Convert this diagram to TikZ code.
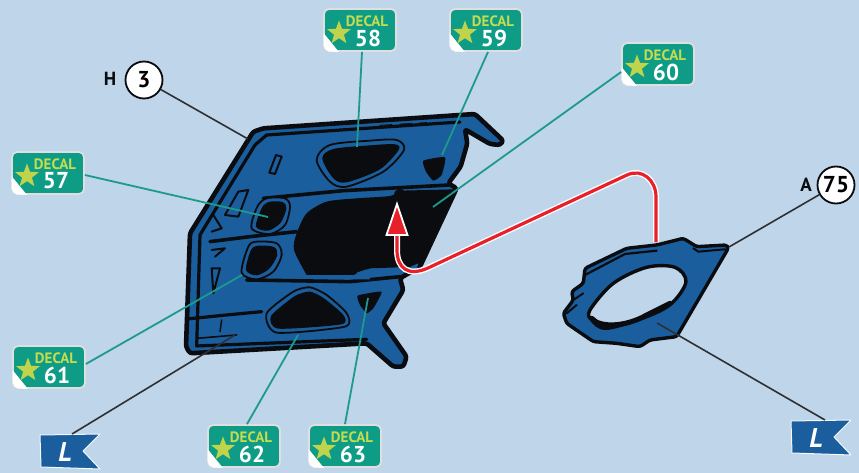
\documentclass[tikz,border=0pt]{standalone}
\usepackage{fontspec}
\setmainfont{PT Sans}
\usetikzlibrary{shapes.geometric,calc}
\definecolor{bgc}{HTML}{BED5EA}
\definecolor{panelc}{HTML}{1A5E9E}
\definecolor{inkc}{HTML}{0A0C10}
\definecolor{tealc}{HTML}{0E9C86}
\definecolor{tealln}{HTML}{1E9A8C}
\definecolor{yelc}{HTML}{C5DC50}
\definecolor{starc}{HTML}{BFD44A}
\definecolor{redc}{HTML}{E8202A}
\tikzset{
  badge/.style={draw=white!75!gray,line width=1.8pt,fill=tealc,rounded corners=5pt,minimum width=72pt,minimum height=42pt,inner sep=0pt},
  decalword/.style={text=yelc,font=\bfseries\fontsize{15}{15}\selectfont,inner sep=0pt},
  decalnum/.style={text=white,font=\bfseries\fontsize{23}{23}\selectfont,inner sep=0pt},
  startag/.style={star,star points=5,star point ratio=2.4,fill=starc,minimum size=25pt,inner sep=0pt},
  leader/.style={draw=tealln,line width=1.8pt},
  blackline/.style={draw=inkc!85!white,line width=1.6pt},
  callout/.style={circle,draw=inkc,line width=1.8pt,fill=white,minimum size=37pt,inner sep=0pt,font=\bfseries\fontsize{23}{23}\selectfont},
  prefixtag/.style={font=\bfseries\fontsize{19}{19}\selectfont,text=inkc,inner sep=0pt},
  bodyshape/.style={fill=panelc,draw=inkc,line join=round,rounded corners=2.5pt},
  holeshape/.style={fill=inkc,draw=none},
  ringb/.style={fill=panelc,draw=inkc,line width=1.8pt},
  streak/.style={draw=inkc,line cap=round,line join=round},
  flagshape/.style={fill=panelc,draw=white!85!bgc,line width=1pt,line join=round},
  flagl/.style={text=white,font=\bfseries\itshape\fontsize{27}{27}\selectfont,inner sep=0pt}
}
\newcommand{\decal}[4]{%
  \node[badge] (#1) at (#2,#3) {};
  \fill[white] ($(#1)+(-36.5,3)$) -- ($(#1)+(-21,22)$) -- ($(#1)+(-31,21.5)$) .. controls ($(#1)+(-34,21)$) and ($(#1)+(-36,18)$) .. ($(#1)+(-36.5,15)$) -- cycle;
  \node[startag] (#1s) at ($(#1)+(-21,3)$) {};
  \node[decalword] (#1w) at ($(#1)+(7,-9)$) {DECAL};
  \node[decalnum] (#1n) at ($(#1)+(8,8)$) {#4};
}
\newcommand{\flagat}[3]{%
  \path[flagshape] ($(#2,#3)+(-30,-17)$) -- ($(#2,#3)+(30,-18)$) -- ($(#2,#3)+(13,-1)$) -- ($(#2,#3)+(30,17)$) -- ($(#2,#3)+(-29,15)$) -- cycle;
  \node[flagl] (#1) at ($(#2,#3)+(-5,0)$) {L};
}
\begin{document}
\begin{tikzpicture}[x=1pt,y=-1pt]
\useasboundingbox (0,0) rectangle (859,473);
\fill[bgc] (0,0) rectangle (859,473);

% door panel, traced in zoom coordinates
\begin{scope}[shift={(170,100)},x=0.3333pt,y=-0.3333pt]
\path[bodyshape,line width=4.6pt] (250,95) -- (280,85) -- (915,42) -- (1000,122) -- (990,135) -- (960,132) -- (885,88) -- (892,130) -- (872,200) -- (835,250) -- (860,265) -- (750,500) -- (690,535) -- (700,570) -- (640,670) -- (710,770) -- (700,800) -- (670,800) -- (590,730) -- (60,760) -- (48,740) -- (60,400) -- cycle;
% inner top edge and left edge
\draw[streak,line width=3.2pt] (870,66) -- (290,105) -- (255,135) -- (105,380) -- (90,405) -- (80,738) -- (590,718);
% stiffeners
\draw[streak,line width=3.6pt] (120,425) -- (240,410) -- (380,395);
\draw[streak,line width=3.6pt] (280,295) -- (520,272) -- (840,255);
\draw[streak,line width=3.6pt] (230,540) -- (540,545) -- (690,530);
\draw[streak,line width=3.2pt] (50,657) -- (170,645) -- (275,635);
\draw[streak,line width=1.6pt] (82,715) -- (200,705);
% centre opening
\path[holeshape] plot[smooth,tension=0.45] coordinates {(690,272) (660,288) (560,295) (470,305) (410,340) (380,400) (372,450) (410,525)} -- (550,525) -- (600,505) -- (750,500) -- (858,268) -- cycle;
\fill[panelc] (560,518) -- (590,508) -- (600,538) -- (555,538) -- cycle;
\fill[panelc] (722,500) -- (745,490) -- (738,515) -- cycle;
% top window
\path[ringb] plot[smooth cycle,tension=0.5] coordinates {(440,180) (480,135) (600,122) (680,120) (702,150) (640,215) (530,260) (480,245)};
\path[holeshape] plot[smooth cycle,tension=0.5] coordinates {(457,175) (490,147) (600,136) (675,133) (686,150) (630,208) (530,247) (490,235)};
% small top right hole
\path[holeshape] plot[smooth cycle,tension=0.3] coordinates {(760,182) (825,172) (815,225) (790,242) (768,215)};
% left windows
\path[ringb] plot[smooth cycle,tension=0.5] coordinates {(262,320) (290,295) (345,295) (360,320) (345,375) (300,402) (245,385)};
\path[holeshape] plot[smooth cycle,tension=0.5] coordinates {(275,325) (295,306) (338,306) (349,325) (332,368) (295,392) (258,380)};
\path[ringb] plot[smooth cycle,tension=0.5] coordinates {(235,440) (260,425) (320,430) (335,465) (310,515) (260,538) (215,518)};
\path[holeshape] plot[smooth cycle,tension=0.5] coordinates {(243,450) (265,437) (312,441) (322,465) (298,506) (260,526) (228,510)};
% bottom window
\path[ringb] plot[smooth cycle,tension=0.4] coordinates {(290,640) (370,575) (420,562) (470,585) (530,640) (525,680) (320,698)};
\path[holeshape] plot[smooth cycle,tension=0.4] coordinates {(303,648) (375,588) (420,575) (462,595) (520,645) (514,673) (325,686)};
% lower right hole
\path[holeshape] plot[smooth cycle,tension=0.25] coordinates {(563,587) (635,575) (610,625) (590,640) (570,615)};
% small details
\draw[streak,line width=2pt,fill=panelc] (318,165) -- (335,170) -- (315,222) -- (298,218) -- cycle;
\draw[streak,line width=2pt] (235,270) -- (205,275) -- (165,345) -- (205,350) -- cycle;
\draw[streak,line width=2pt] (130,345) -- (155,385) -- (125,395);
\draw[streak,line width=2pt] (125,450) -- (165,445) -- (135,470);
\draw[streak,line width=2pt] (125,505) -- (150,505) -- (130,580) -- cycle;
\draw[streak,line width=1.5pt] (155,660) -- (150,695);
\draw[streak,line width=1pt,dash pattern=on 12pt off 8pt] (630,76) -- (770,68);
\fill[inkc] (690,285) circle[radius=18];
\end{scope}

% gasket, traced in zoom coordinates
\begin{scope}[shift={(550,160)},x=0.3333pt,y=-0.3333pt]
\path[bodyshape,line width=3.4pt] (40,460) -- (70,420) -- (65,395) -- (100,370) -- (105,325) -- (230,265) -- (320,255) -- (400,235) -- (440,260) -- (530,255) -- (535,265) -- (380,530) -- (300,540) -- (270,560) -- (200,550) -- (130,545) -- (50,490) -- cycle;
\draw[streak,line width=2.2pt] (105,345) -- (225,282) -- (320,272);
\draw[streak,line width=2pt] (430,265) -- (445,275) -- (525,268);
\draw[streak,line width=2pt] (70,420) -- (100,400);
\draw[streak,line width=2pt] (50,460) -- (80,435);
\path[fill=bgc,draw=inkc,line width=3.4pt] plot[smooth cycle,tension=0.55] coordinates {(120,450) (190,370) (290,322) (375,322) (408,365) (365,430) (290,470) (170,505) (125,480)};
\draw[streak,line width=5pt] (125,475) .. controls (150,505) and (230,500) .. (290,465) -- (360,430);
\end{scope}

% callouts
\node[callout] (h3) at (144,80) {3};
\node[prefixtag] (hp) at (110,79) {H};
\node[callout] (a75) at (836,185) {75};
\node[prefixtag] (ap) at (806,185) {A};
\flagat{lflag}{70}{452}
\flagat{rflag}{821}{438}

% decals
\decal{d58}{360}{30}{58}
\decal{d59}{486}{30}{59}
\decal{d60}{658}{64}{60}
\decal{d57}{48}{173}{57}
\decal{d61}{49}{367}{61}
\decal{d62}{244}{446}{62}
\decal{d63}{345}{446}{63}

% leader end points
\coordinate (e58) at (357,147);
\coordinate (e59) at (442,155);
\coordinate (e60) at (433,207);
\coordinate (e57) at (268,217);
\coordinate (e61) at (242,275);
\coordinate (e62) at (298,335);
\coordinate (e63) at (368,298);
\coordinate (eh) at (248,139);
\coordinate (el) at (235,335);
\coordinate (ea) at (729,247);
\coordinate (er) at (657,323);
\coordinate (ls) at (72,434);
\coordinate (rs) at (825,420);

\draw[leader] ($(d58.south)+(2,0)$) -- (e58);
\draw[leader] ($(d59.south)+(2,0)$) -- (e59);
\draw[leader] ($(d60.west)+(0,8)$) -- (e60);
\draw[leader] ($(d57.east)+(0,2)$) -- (e57);
\draw[leader] ($(d61.east)+(0,-3)$) -- (e61);
\draw[leader] ($(d62.north)+(3,0)$) -- (e62);
\draw[leader] (d63.north) -- (e63);
\draw[blackline] (h3) -- (eh);
\draw[blackline] (a75) -- (ea);
\draw[blackline] (ls) -- (el);
\draw[blackline] (rs) -- (er);

% routing arrow
\coordinate (ra) at (656,242);
\coordinate (re) at (397,232);
\foreach \w/\c in {6pt/white,3.2pt/redc}{
  \draw[line width=\w,color=\c,line join=round] (ra) -- (656,197) .. controls (656,180) and (642,168) .. (627,175) -- (428,268) .. controls (408,277) and (397,268) .. (397,250) -- (re);
}
\path[fill=redc,draw=white,line width=1.8pt,line join=miter] (397,204) -- (407.5,235) -- (386.5,235) -- cycle;
\end{tikzpicture}
\end{document}
